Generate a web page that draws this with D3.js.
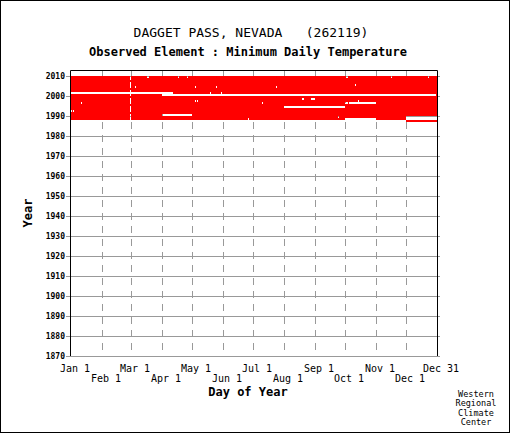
<!DOCTYPE html>
<html>
<head>
  <meta charset="utf-8">
  <style>
    body{ margin:0; background:#fff }
    text{ font-family:"DejaVu Sans Mono", monospace; fill:#000 }
  </style>
  <script src="https://d3js.org/d3.v7.min.js"></script>
</head>
<body>
<script>
// years shown on the axis
var yearTicks = d3.range(1870, 2011, 10);

// day index in a 366 day (leap) calendar
var monthTop = ["Jan 1", "Mar 1", "May 1", "Jul 1", "Sep 1", "Nov 1", "Dec 31"];
var monthTopDay = [0, 60, 121, 182, 244, 305, 366];
var monthBottom = ["Feb 1", "Apr 1", "Jun 1", "Aug 1", "Oct 1", "Dec 1"];
var monthBottomDay = [31, 91, 152, 213, 274, 335];
var gridDays = [31, 60, 91, 121, 152, 182, 213, 244, 274, 305, 335];

// period of record: [year, first day, last day]
var coverage = [
  [1988, 335, 365], [1989, 0, 365], [1990, 0, 365], [1991, 0, 365], [1992, 0, 365],
  [1993, 0, 365], [1994, 0, 365], [1995, 0, 365], [1996, 0, 365], [1997, 0, 365],
  [1998, 0, 365], [1999, 0, 365], [2000, 0, 365], [2001, 0, 365], [2002, 0, 365],
  [2003, 0, 365], [2004, 0, 365], [2005, 0, 365], [2006, 0, 365], [2007, 0, 365],
  [2008, 0, 365], [2009, 0, 365], [2010, 0, 365]
];

// missing days: [year, first day, last day]
var missing = [
  [2010, 76, 77], [2010, 107, 107], [2010, 116, 116], [2010, 275, 276], [2010, 320, 320], [2010, 357, 357],
  [2006, 284, 284],
  [2005, 64, 64], [2005, 124, 124], [2005, 145, 145], [2005, 205, 205],
  [2002, 0, 101], [2002, 139, 139], [2002, 150, 150],
  [2001, 91, 364],
  [1999, 231, 232], [1999, 240, 243],
  [1998, 124, 124], [1998, 126, 126], [1998, 287, 287],
  [1997, 10, 10], [1997, 191, 191], [1997, 274, 276], [1997, 278, 304],
  [1995, 213, 273],
  [1993, 0, 0], [1993, 2, 2],
  [1991, 91, 120],
  [1990, 267, 267], [1990, 335, 365],
  [1989, 177, 177], [1989, 274, 304], [1989, 335, 365]
];

var W = 510, H = 433;
var svg = d3.select("body").append("svg")
  .attr("width", W)
  .attr("height", H);

var x = d3.scaleLinear().domain([0, 366]).range([71, 437]);
var y = d3.scaleLinear().domain([1870, 2010]).range([356, 76]);
var plotTop = 70, plotLeft = 70, plotRight = 437, plotBottom = y(1870);

function isLeap(yr) { return (yr % 4 == 0 && yr % 100 != 0) || yr % 400 == 0; }

// build the runs of days with data
var segments = [];
coverage.forEach(function(c) {
  var yr = c[0];
  var have = [];
  for (var d = c[1]; d <= c[2]; d++) have[d] = true;
  if (!isLeap(yr)) have[59] = false;   // no Feb 29
  missing.forEach(function(m) {
    if (m[0] != yr) return;
    for (var d = m[1]; d <= m[2]; d++) have[d] = false;
  });
  var start = -1;
  for (var d = 0; d <= 366; d++) {
    if (have[d] && start < 0) start = d;
    if (!have[d] && start >= 0) { segments.push([yr, start, d]); start = -1; }
  }
});

// outer frame
svg.append("rect")
  .attr("x", 0.5).attr("y", 0.5)
  .attr("width", W - 1).attr("height", H - 1)
  .attr("fill", "none").attr("stroke", "#000");

// horizontal grid + ticks
svg.append("g").selectAll("line").data(yearTicks).join("line")
  .attr("x1", plotLeft - 4).attr("x2", plotRight + 3)
  .attr("y1", function(d) { return Math.round(y(d)) + 0.5; })
  .attr("y2", function(d) { return Math.round(y(d)) + 0.5; })
  .attr("stroke", "#999").attr("stroke-width", 1);

// vertical dashed grid
svg.append("g").selectAll("line").data(gridDays).join("line")
  .attr("x1", function(d) { return Math.round(x(d)) + 0.5; })
  .attr("x2", function(d) { return Math.round(x(d)) + 0.5; })
  .attr("y1", plotTop).attr("y2", plotBottom)
  .attr("stroke", "#999").attr("stroke-width", 1)
  .attr("stroke-dasharray", "7,6");

// data bars
svg.append("g").selectAll("rect").data(segments).join("rect")
  .attr("x", function(d) { return x(d[1]); })
  .attr("width", function(d) { return x(d[2]) - x(d[1]); })
  .attr("y", function(d) { return y(d[0]); })
  .attr("height", function(d) { return y(d[0] - 1) - y(d[0]); })
  .attr("fill", "#ff0000")
  .attr("shape-rendering", "crispEdges");

// plot border (left, top, right)
svg.append("path")
  .attr("d", "M" + (plotLeft + 0.5) + "," + plotBottom +
             "V" + (plotTop + 0.5) + "H" + (plotRight + 0.5) + "V" + plotBottom)
  .attr("fill", "none").attr("stroke", "#000").attr("stroke-width", 1);

// year labels
svg.append("g").selectAll("text").data(yearTicks).join("text")
  .attr("x", plotLeft - 5)
  .attr("y", function(d) { return y(d) + 3; })
  .attr("text-anchor", "end")
  .style("font-size", "8px").style("font-weight", "bold")
  .text(function(d) { return d; });

// day labels
svg.append("g").selectAll("text").data(monthTop).join("text")
  .attr("x", function(d, i) { return x(monthTopDay[i]) + 4; })
  .attr("y", 372)
  .attr("text-anchor", "middle")
  .style("font-size", "10px")
  .text(function(d) { return d; });

svg.append("g").selectAll("text").data(monthBottom).join("text")
  .attr("x", function(d, i) { return x(monthBottomDay[i]) + 4; })
  .attr("y", 382)
  .attr("text-anchor", "middle")
  .style("font-size", "10px")
  .text(function(d) { return d; });

// titles
svg.append("text")
  .attr("x", 251).attr("y", 37)
  .attr("text-anchor", "middle")
  .style("font-size", "13px")
  .style("white-space", "pre")
  .text("DAGGET PASS, NEVADA   (262119)");

svg.append("text")
  .attr("x", 248).attr("y", 56)
  .attr("text-anchor", "middle")
  .style("font-size", "12px").style("font-weight", "bold")
  .text("Observed Element : Minimum Daily Temperature");

svg.append("text")
  .attr("x", 248).attr("y", 396)
  .attr("text-anchor", "middle")
  .style("font-size", "12px").style("font-weight", "bold")
  .text("Day of Year");

svg.append("text")
  .attr("transform", "translate(32," + 213 + ") rotate(-90)")
  .attr("text-anchor", "middle")
  .style("font-size", "12px").style("font-weight", "bold")
  .text("Year");

var credit = ["Western", "Regional", "Climate", "Center"];
svg.append("g").selectAll("text").data(credit).join("text")
  .attr("x", 476)
  .attr("y", function(d, i) { return 397 + i * 9.3; })
  .attr("text-anchor", "middle")
  .style("font-size", "8.5px")
  .text(function(d) { return d; });
</script>
</body>
</html>
